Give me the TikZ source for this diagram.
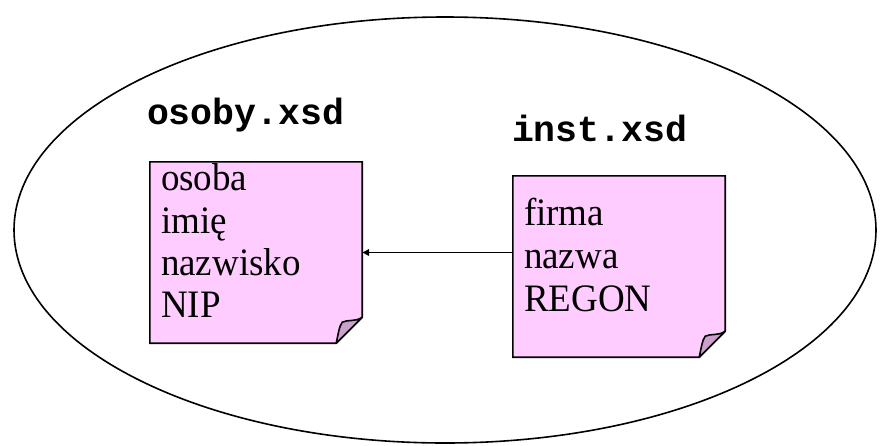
\documentclass[tikz,border=0pt]{standalone}
\usepackage{fontspec}
\setmainfont{Liberation Serif}
\newfontfamily\codefont{Liberation Mono}
\usetikzlibrary{arrows.meta,calc}
\definecolor{pagepink}{HTML}{FFCCFF}
\definecolor{foldlilac}{HTML}{CCA0CC}

\tikzset{
  outline/.style={line width=1.6pt, draw=black},
  pagebox/.style={rectangle, draw=none, inner sep=0pt,
    minimum width=212pt, minimum height=181pt},
  filename/.style={anchor=base west, inner sep=0pt,
    font=\codefont\bfseries\fontsize{36.5}{36.5}\selectfont},
  itemtext/.style={anchor=base west, inner sep=0pt,
    font=\fontsize{37}{37}\selectfont, yscale=1.05, transform shape},
  link/.style={line width=1.9pt, -{Triangle[length=7pt,width=6.5pt]}}
}

% sheet of paper with a curled lower right corner
\newcommand\foldedpage[1]{%
  \path[outline, fill=pagepink]
    (#1.north west) -- (#1.north east) -- ([yshift=26pt]#1.south east)
    -- ([xshift=-26pt]#1.south east) -- (#1.south west) -- cycle;
  \path[outline, fill=foldlilac, line join=round]
    ([xshift=-26pt]#1.south east)
    .. controls ([xshift=-24pt,yshift=9pt]#1.south east)
            and ([xshift=-23pt,yshift=17pt]#1.south east)
    .. ([xshift=-20pt,yshift=21pt]#1.south east)
    .. controls ([xshift=-14pt,yshift=24pt]#1.south east)
            and ([xshift=-7pt,yshift=21pt]#1.south east)
    .. ([yshift=26pt]#1.south east) -- cycle;
}

\begin{document}
\begin{tikzpicture}[x=1pt, y=-1pt]
\useasboundingbox (0,0) rectangle (881,445);

% surrounding namespace
\draw[outline] (445,230) ellipse [x radius=431, y radius=213];

% the two schema documents
\node[pagebox] (osoby) at (256,252.5) {};
\node[pagebox] (inst) at (619,266.5) {};
\foldedpage{osoby}
\foldedpage{inst}

\node[filename] (osobyname) at ($(osoby.north west)+(-3,-37)$) {osoby.xsd};
\node[filename] (instname) at ($(inst.north west)+(-1,-34)$) {inst.xsd};

\foreach \t [count=\i from 0] in {osoba, imię, nazwisko, NIP}
  \node[itemtext] (osobyitem\i) at ($(osoby.north west)+(11,29+42.3*\i)$) {\t};
\foreach \t [count=\i from 0] in {firma, nazwa, REGON}
  \node[itemtext] (institem\i) at ($(inst.north west)+(11,50+43*\i)$) {\t};

% reference from inst.xsd to osoby.xsd
\draw[link] (inst.west |- osoby.east) -- (osoby.east);
\end{tikzpicture}
\end{document}
